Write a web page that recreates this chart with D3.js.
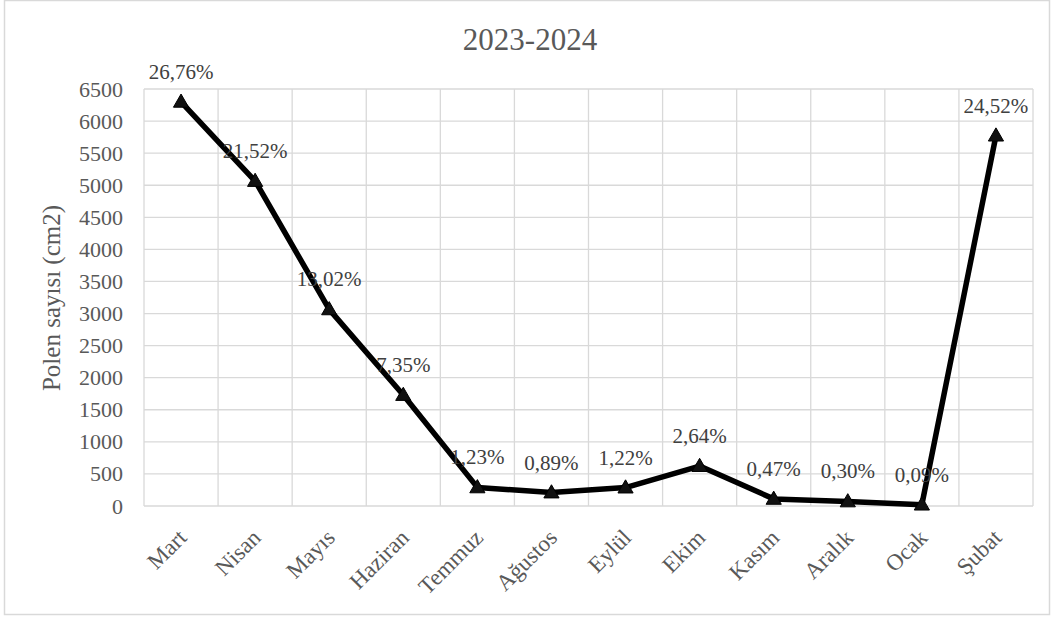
<!DOCTYPE html>
<html>
<head>
<meta charset="utf-8">
<script src="https://cdn.jsdelivr.net/npm/d3@7"></script>
<style>
  html, body { margin: 0; padding: 0; background: #fff; }
  svg { display: block; }
  text { font-family: "Liberation Serif", "Times New Roman", serif; }
</style>
</head>
<body>
<svg id="chart" width="1051" height="621"></svg>
<script>
const titleText = "2023-2024";
const yAxisTitle = "Polen sayısı (cm2)";
const months = ["Mart", "Nisan", "Mayıs", "Haziran", "Temmuz", "Ağustos", "Eylül", "Ekim", "Kasım", "Aralık", "Ocak", "Şubat"];
const pollen = [6300, 5066, 3065, 1730, 290, 210, 287, 622, 111, 71, 21, 5773];
const percentLabels = ["26,76%", "21,52%", "13,02%", "7,35%", "1,23%", "0,89%", "1,22%", "2,64%", "0,47%", "0,30%", "0,09%", "24,52%"];
const yTicks = [0, 500, 1000, 1500, 2000, 2500, 3000, 3500, 4000, 4500, 5000, 5500, 6000, 6500];

const svg = d3.select("#chart");
const plot = { left: 144, right: 1033, top: 89, bottom: 506 };

// outer border
svg.append("rect")
  .attr("x", 4.5).attr("y", 0.5)
  .attr("width", 1045).attr("height", 614)
  .attr("fill", "#fff").attr("stroke", "#d9d9d9").attr("stroke-width", 1.5);

const x = d3.scaleBand().domain(months).range([plot.left, plot.right]).padding(0);
const y = d3.scaleLinear().domain([0, 6500]).range([plot.bottom, plot.top]);

// horizontal grid
svg.append("g")
  .selectAll("line").data(yTicks).join("line")
  .attr("x1", plot.left).attr("x2", plot.right)
  .attr("y1", d => y(d)).attr("y2", d => y(d))
  .attr("stroke", "#d9d9d9").attr("stroke-width", 1.3);

// vertical grid at band boundaries
const bounds = months.map(m => x(m)).concat([plot.right]);
svg.append("g")
  .selectAll("line").data(bounds).join("line")
  .attr("x1", d => d).attr("x2", d => d)
  .attr("y1", plot.top).attr("y2", plot.bottom)
  .attr("stroke", "#d9d9d9").attr("stroke-width", 1.3);

// y axis labels
const yAxis = d3.axisLeft(y).tickValues(yTicks).tickSize(0).tickPadding(21).tickFormat(d3.format("d"));
const gy = svg.append("g").attr("transform", `translate(${plot.left},0)`).call(yAxis);
gy.select(".domain").remove();
gy.selectAll("text")
  .attr("font-family", '"Liberation Serif", serif')
  .attr("font-size", 22).attr("fill", "#595959");

// x axis labels
const xAxis = d3.axisBottom(x).tickSize(0).tickFormat(d => d);
const gx = svg.append("g").attr("transform", `translate(0,${plot.bottom})`).call(xAxis);
gx.select(".domain").remove();
gx.selectAll(".tick text")
  .attr("font-family", '"Liberation Serif", serif')
  .attr("font-size", 23).attr("fill", "#595959")
  .attr("text-anchor", "end")
  .attr("dy", null)
  .attr("y", null)
  .attr("transform", "translate(7,33) rotate(-45)");

// title
svg.append("text")
  .attr("x", 530).attr("y", 50)
  .attr("text-anchor", "middle")
  .attr("font-size", 31).attr("fill", "#595959")
  .text(titleText);

// y axis title
svg.append("text")
  .attr("transform", "translate(60,298) rotate(-90)")
  .attr("text-anchor", "middle")
  .attr("font-size", 25).attr("fill", "#595959")
  .text(yAxisTitle);

// line
const cx = d => x(d) + x.bandwidth() / 2;
const data = months.map((m, i) => ({ m, v: pollen[i], lab: percentLabels[i] }));
svg.append("path")
  .datum(data)
  .attr("fill", "none").attr("stroke", "#000").attr("stroke-width", 5.5)
  .attr("stroke-linejoin", "round")
  .attr("d", d3.line().x(d => cx(d.m)).y(d => y(d.v)));

// markers
const tri = d3.symbol().type(d3.symbolTriangle).size(100);
svg.append("g").selectAll("path").data(data).join("path")
  .attr("transform", d => `translate(${cx(d.m)},${y(d.v) + 1})`)
  .attr("d", tri)
  .attr("fill", "#111").attr("stroke", "#000").attr("stroke-width", 1);

// data labels
svg.append("g").selectAll("text").data(data).join("text")
  .attr("x", d => cx(d.m))
  .attr("y", d => y(d.v) - 23)
  .attr("text-anchor", "middle")
  .attr("font-size", 21).attr("fill", "#404040")
  .text(d => d.lab);
</script>
</body>
</html>
